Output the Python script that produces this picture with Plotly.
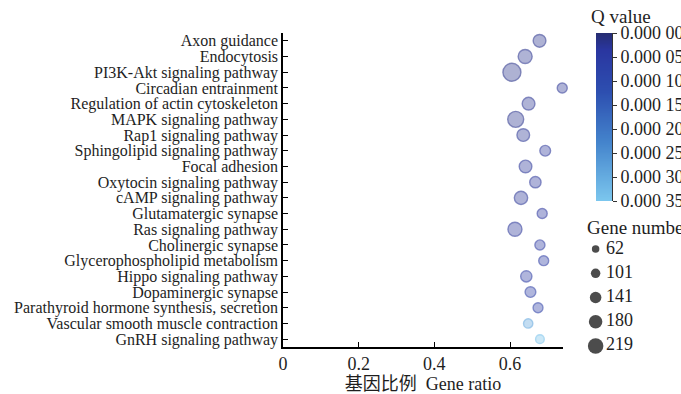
import numpy as np
import plotly.graph_objects as go

pathways = [
    "Axon guidance", "Endocytosis", "PI3K-Akt signaling pathway", "Circadian entrainment",
    "Regulation of actin cytoskeleton", "MAPK signaling pathway", "Rap1 signaling pathway",
    "Sphingolipid signaling pathway", "Focal adhesion", "Oxytocin signaling pathway",
    "cAMP signaling pathway", "Glutamatergic synapse", "Ras signaling pathway",
    "Cholinergic synapse", "Glycerophospholipid metabolism", "Hippo signaling pathway",
    "Dopaminergic synapse", "Parathyroid hormone synthesis, secretion",
    "Vascular smooth muscle contraction", "GnRH signaling pathway",
]
gene_ratio = [0.678, 0.640, 0.605, 0.738, 0.649, 0.615, 0.635, 0.693, 0.641, 0.667,
              0.629, 0.685, 0.613, 0.679, 0.689, 0.643, 0.654, 0.674, 0.648, 0.679]
gene_number = [130, 151, 219, 84, 130, 185, 129, 96, 128, 106,
               140, 84, 151, 85, 83, 105, 96, 82, 72, 62]
q_value = [0.000020, 0.000022, 0.000018, 0.000025, 0.000024, 0.000020, 0.000026,
           0.000030, 0.000028, 0.000030, 0.000027, 0.000033, 0.000029, 0.000040,
           0.000045, 0.000050, 0.000055, 0.000060, 0.000290, 0.000340]

size_breaks = [62, 101, 141, 180, 219]
x_ticks = [0, 0.2, 0.4, 0.6]
q_ticks = [0, 0.00005, 0.00010, 0.00015, 0.00020, 0.00025, 0.00030, 0.00035]
q_ticktext = ["0.000 00", "0.000 05", "0.000 10", "0.000 15",
              "0.000 20", "0.000 25", "0.000 30", "0.000 35"]

W, H = 681, 394
FONT = "Liberation Serif, Times New Roman, Noto Sans CJK SC, serif"
TXT = "#1e1e1e"
stops = [0.0, 0.1, 0.35, 0.65, 1.0]
rgb = [(38, 45, 114), (42, 54, 160), (45, 79, 176), (68, 132, 204), (124, 199, 238)]
cscale = [[s, "rgb(%d,%d,%d)" % c] for s, c in zip(stops, rgb)]
fill_scale = [[s, "rgba(%d,%d,%d,0.53)" % c] for s, c in zip(stops, rgb)]
line_scale = [[s, "rgba(%d,%d,%d,0.8)" % c] for s, c in zip(stops, rgb)]
QMIN, QMAX = 0.0, 0.00035


def px_x(a, b):
    return [a / W, b / W]


def px_y(top, bottom):
    return [1 - bottom / H, 1 - top / H]


def plot_size(n):
    n = np.asarray(n, dtype=float)
    return 8.7 + (n - 62) * 9.3 / 157


def legend_size(n):
    n = np.asarray(n, dtype=float)
    return 7.5 + (n - 62) * 8 / 157


fig = go.Figure()

fig.add_trace(go.Scatter(
    x=gene_ratio, y=pathways, mode="markers", cliponaxis=False,
    marker=dict(
        size=plot_size(gene_number), color=q_value, colorscale=fill_scale,
        cmin=QMIN, cmax=QMAX, showscale=False,
        line=dict(width=1.4, color=q_value, colorscale=line_scale, cmin=QMIN, cmax=QMAX),
    ),
    showlegend=False, hoverinfo="skip",
))

# colour bar drawn as a heatmap on its own axes
qgrid = np.linspace(QMIN, QMAX, 300)
fig.add_trace(go.Heatmap(
    z=[[v] for v in qgrid], x=[0], y=qgrid, colorscale=cscale, zmin=QMIN, zmax=QMAX,
    showscale=False, zsmooth="best", xaxis="x2", yaxis="y2", hoverinfo="skip",
))

# size legend
fig.add_trace(go.Scatter(
    x=[0] * len(size_breaks), y=list(range(len(size_breaks))), mode="markers",
    marker=dict(size=legend_size(size_breaks), color="black", line=dict(width=0)),
    xaxis="x3", yaxis="y3", showlegend=False, hoverinfo="skip",
))
fig.add_trace(go.Scatter(
    x=[0.45] * len(size_breaks), y=list(range(len(size_breaks))), mode="text",
    text=[str(v) for v in size_breaks], textposition="middle right",
    textfont=dict(family=FONT, size=18, color=TXT),
    xaxis="x3", yaxis="y3", showlegend=False, hoverinfo="skip",
))

fig.update_layout(
    width=W, height=H, margin=dict(l=0, r=0, t=0, b=0, autoexpand=False),
    paper_bgcolor="white", plot_bgcolor="white",
    font=dict(family=FONT, size=16, color=TXT),
    xaxis=dict(
        domain=px_x(283, 563), range=[0, 0.74], tickvals=x_ticks,
        ticktext=["0", "0.2", "0.4", "0.6"], ticks="inside", ticklen=5, tickwidth=1.3,
        tickcolor="black", showline=True, linecolor="black", linewidth=1.5,
        showgrid=False, zeroline=False, tickfont=dict(size=18), automargin=False,
        title=dict(text="基因比例  Gene ratio", font=dict(size=18), standoff=4),
        anchor="y",
    ),
    yaxis=dict(
        domain=px_y(33, 347), type="category", categoryorder="array",
        categoryarray=pathways, range=[19.5, -0.5], tickmode="array",
        tickvals=pathways, ticks="inside", ticklen=5,
        tickwidth=1.3, tickcolor="black", showline=True, linecolor="black",
        linewidth=1.5, showgrid=False, zeroline=False, tickfont=dict(size=16),
        automargin=False, anchor="x",
    ),
    xaxis2=dict(domain=px_x(596, 612), range=[-0.5, 0.5], visible=False, anchor="y2"),
    yaxis2=dict(
        domain=px_y(33, 201), range=[QMAX, QMIN], side="right", anchor="x2",
        tickvals=q_ticks, ticktext=q_ticktext, ticks="outside", ticklen=4,
        tickcolor="#333", showline=True, linecolor="#333", linewidth=1,
        showgrid=False, zeroline=False, tickfont=dict(size=18), automargin=False,
    ),
    xaxis3=dict(domain=px_x(584, 677), range=[-0.5, 3.5], visible=False, anchor="y3"),
    yaxis3=dict(domain=px_y(237, 358), range=[4.5, -0.5], visible=False, anchor="x3"),
    annotations=[
        dict(text="Q value", x=589 / W, y=1 - 16 / H, xref="paper", yref="paper",
             xanchor="left", yanchor="middle", showarrow=False, font=dict(size=19)),
        dict(text="Gene number", x=585 / W, y=1 - 228 / H, xref="paper", yref="paper",
             xanchor="left", yanchor="middle", showarrow=False, font=dict(size=19)),
    ],
)

fig.write_html("out.html", config={"displayModeBar": False},
               post_script="document.body.style.margin='0';")
